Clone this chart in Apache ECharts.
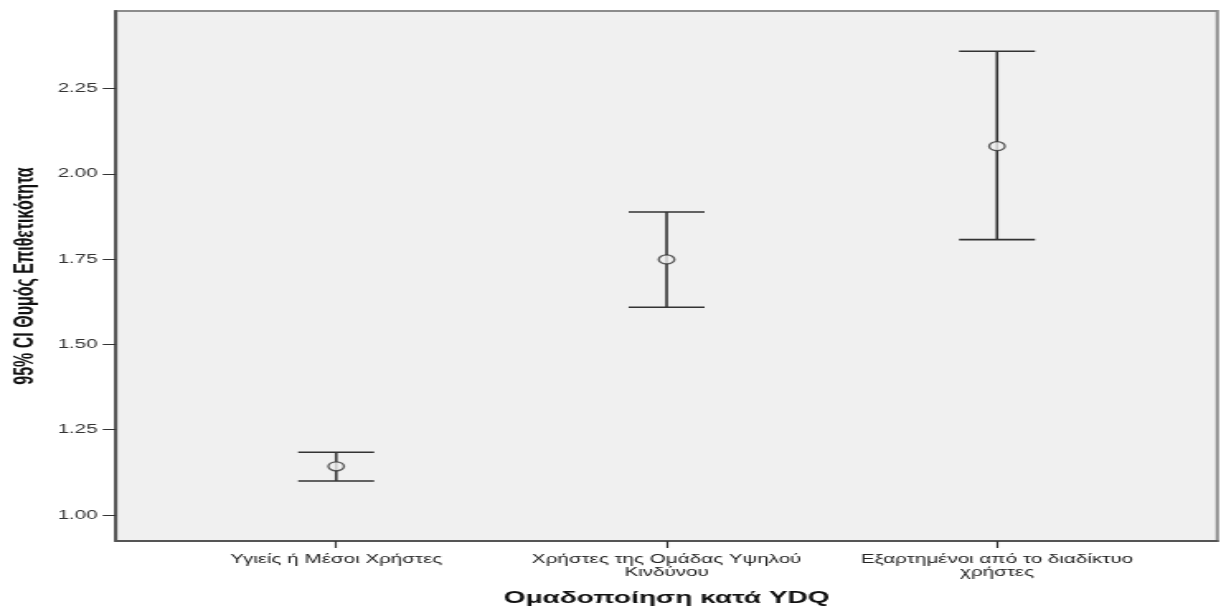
<!DOCTYPE html>
<html>
<head>
<meta charset="utf-8">
<script src="https://cdn.jsdelivr.net/npm/echarts@6/dist/echarts.min.js"></script>
<style>
html,body{margin:0;padding:0;background:#fff;}
#wrap{width:1224px;height:612px;overflow:hidden;position:relative;}
#main{height:612px;transform-origin:0 0;position:absolute;left:0;top:0;}
</style>
</head>
<body>
<div id="wrap"><div id="main"></div></div>
<script>
// ---- data ----
const categories = ['Υγιείς ή Μέσοι Χρήστες', 'Χρήστες της Ομάδας Υψηλού\nΚινδύνου', 'Εξαρτημένοι από το διαδίκτυο\nχρήστες'];
const means   = [1.143, 1.749, 2.081];
const lowerCI = [1.100, 1.609, 1.807];
const upperCI = [1.184, 1.888, 2.359];
const yTicks  = [1.00, 1.25, 1.50, 1.75, 2.00, 2.25];
const xTitle = 'Ομαδοποίηση κατά YDQ';
const yTitle = '95% CI Θυμός Επιθετικότητα';

// horizontal stretch of the original rendering
const S = 1.65;
const W = 1224 / S;
const el = document.getElementById('main');
el.style.width = W + 'px';
el.style.transform = 'scaleX(' + S + ')';

const chart = echarts.init(el);
const idx = categories.map((c, i) => i);
const font = 'Liberation Sans, Arial, sans-serif';

chart.setOption({
  backgroundColor: '#ffffff',
  animation: false,
  grid: {
    left: 112 / S, right: 7 / S, top: 11, bottom: 71,
    show: true, backgroundColor: '#f0f0f0', borderColor: '#8c8c8c', borderWidth: 2
  },
  xAxis: {
    type: 'value', min: -2 / 3, max: 8 / 3,
    name: xTitle, nameLocation: 'middle', nameGap: 49,
    nameTextStyle: { fontFamily: font, fontSize: 17, fontWeight: 'bold', color: '#111' },
    axisLine: { show: true, onZero: false, lineStyle: { color: '#555', width: 2 } },
    axisTick: { show: true, customValues: idx, length: 7, lineStyle: { color: '#333', width: 1.2 } },
    axisLabel: {
      customValues: idx, margin: 12, fontFamily: font, fontSize: 12.5, color: '#222',
      lineHeight: 13, align: 'center',
      formatter: v => categories[Math.round(v)]
    },
    splitLine: { show: false }
  },
  yAxis: {
    type: 'value', min: 0.924, max: 2.477,
    name: yTitle, nameLocation: 'middle', nameGap: 46, nameRotate: 90,
    nameTextStyle: { fontFamily: font, fontSize: 16, fontWeight: 'bold', color: '#111' },
    axisLine: { show: true, onZero: false, lineStyle: { color: '#555', width: 2 } },
    axisTick: { show: true, customValues: yTicks, length: 8, lineStyle: { color: '#333', width: 1 } },
    axisLabel: {
      customValues: yTicks, margin: 11, fontFamily: font, fontSize: 12.5, color: '#333',
      formatter: v => v.toFixed(2)
    },
    splitLine: { show: false }
  },
  series: [
    {
      type: 'custom',
      data: idx.map(i => [i, lowerCI[i], upperCI[i]]),
      renderItem: function (params, api) {
        const x = api.value(0);
        const lo = api.coord([x, api.value(1)]);
        const hi = api.coord([x, api.value(2)]);
        const hw = 38 / S;
        const style = { stroke: '#333', lineWidth: 1.6 };
        return {
          type: 'group',
          children: [
            { type: 'line', shape: { x1: lo[0], y1: lo[1], x2: hi[0], y2: hi[1] }, style: style },
            { type: 'line', shape: { x1: hi[0] - hw, y1: hi[1], x2: hi[0] + hw, y2: hi[1] }, style: style },
            { type: 'line', shape: { x1: lo[0] - hw, y1: lo[1], x2: lo[0] + hw, y2: lo[1] }, style: style }
          ]
        };
      },
      z: 2
    },
    {
      type: 'scatter',
      data: idx.map(i => [i, means[i]]),
      symbol: 'circle',
      symbolSize: [9.5, 9],
      itemStyle: { color: '#f0f0f0', borderColor: '#333', borderWidth: 1.3 },
      z: 3
    }
  ]
});
</script>
</body>
</html>
